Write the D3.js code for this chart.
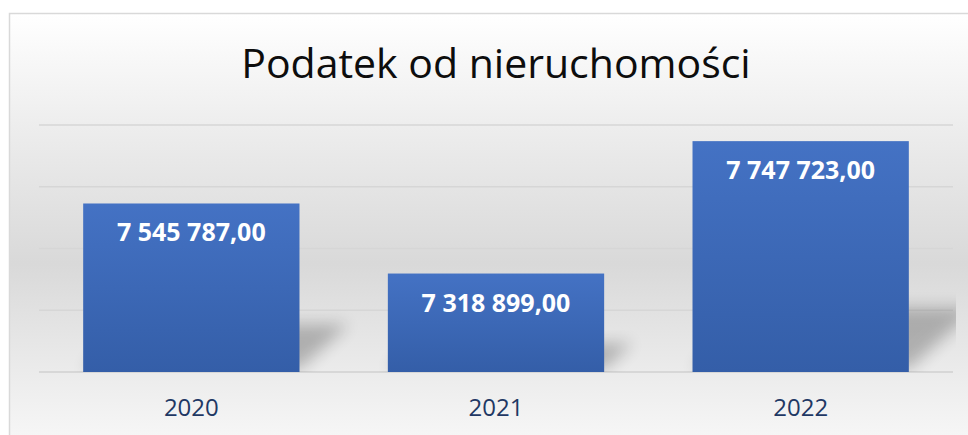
<!DOCTYPE html>
<html>
<head>
<meta charset="utf-8">
<script src="https://cdn.jsdelivr.net/npm/d3@7"></script>
<style>
  body { margin: 0; background: #ffffff; }
  svg { display: block; font-family: "Open Sans", sans-serif; }
</style>
</head>
<body>
<div id="chart"></div>
<script>
// data
var years = ["2020", "2021", "2022"];
var values = [7545787.00, 7318899.00, 7747723.00];
var yTicks = [7000000, 7200000, 7400000, 7600000, 7800000];
var title = "Podatek od nieruchomości";

var width = 968, height = 435;
var plot = {left: 39, right: 953, top: 125, bottom: 372};

var svg = d3.select("#chart")
            .append("svg")
            .attr("width", width)
            .attr("height", height);

var defs = svg.append("defs");

// chart area background: light -> grey -> light
var bg = defs.append("linearGradient")
             .attr("id", "bgGrad")
             .attr("x1", 0).attr("y1", 0).attr("x2", 0).attr("y2", 1);
bg.append("stop").attr("offset", "0%").attr("stop-color", "#ffffff");
bg.append("stop").attr("offset", "25%").attr("stop-color", "#ededed");
bg.append("stop").attr("offset", "55%").attr("stop-color", "#d9d9d9");
bg.append("stop").attr("offset", "85%").attr("stop-color", "#f0f0f0");
bg.append("stop").attr("offset", "100%").attr("stop-color", "#fbfbfb");

// bar fill
var barGrad = defs.append("linearGradient")
                  .attr("id", "barGrad")
                  .attr("x1", 0).attr("y1", 0).attr("x2", 0).attr("y2", 1);
barGrad.append("stop").attr("offset", "0%").attr("stop-color", "#4472c4");
barGrad.append("stop").attr("offset", "100%").attr("stop-color", "#345ea8");

var blur = defs.append("filter")
               .attr("id", "shadowBlur")
               .attr("x", "-50%").attr("y", "-50%")
               .attr("width", "200%").attr("height", "200%");
blur.append("feGaussianBlur").attr("stdDeviation", 8);

// shadows stop at the plot area's right edge
defs.append("clipPath")
    .attr("id", "plotClip")
    .append("rect")
    .attr("x", 0)
    .attr("y", 0)
    .attr("width", plot.right + 3)
    .attr("height", plot.bottom);

// frame
svg.append("rect")
   .attr("x", 9.5)
   .attr("y", 13.5)
   .attr("width", width + 20)
   .attr("height", height + 20)
   .attr("fill", "url(#bgGrad)")
   .attr("stroke", "#d9d9d9")
   .attr("stroke-width", 1.5);

// title
svg.append("text")
   .attr("x", 496)
   .attr("y", 78)
   .attr("text-anchor", "middle")
   .attr("font-size", 41)
   .attr("fill", "#0d0d0d")
   .text(title);

// scales
var x = d3.scaleBand()
          .domain(years)
          .range([plot.left, plot.right])
          .paddingInner(0.29)
          .paddingOuter(0.145);

var y = d3.scaleLinear()
          .domain([yTicks[0], yTicks[yTicks.length - 1]])
          .range([plot.bottom, plot.top]);

// gridlines
svg.append("g")
   .selectAll("line")
   .data(yTicks)
   .enter()
   .append("line")
   .attr("x1", plot.left)
   .attr("x2", plot.right)
   .attr("y1", function(d){ return y(d); })
   .attr("y2", function(d){ return y(d); })
   .attr("stroke", function(d, i){ return i === 0 ? "#d0d0d0" : "#d6d6d6"; })
   .attr("stroke-width", 1.5);

// perspective shadows behind the bars
svg.append("g")
   .attr("clip-path", "url(#plotClip)")
   .selectAll("polygon")
   .data(values)
   .enter()
   .append("polygon")
   .attr("points", function(d, i){
     var x0 = x(years[i]), x1 = x0 + x.bandwidth();
     var b = y(yTicks[0]) - 3;
     var h = (b - y(d)) * 0.27;
     return [[x0, b], [x1, b], [x1 + h * 1.1, b - h], [x0 + h * 1.1, b - h]].join(" ");
   })
   .attr("fill", "#000")
   .attr("opacity", 0.24)
   .attr("filter", "url(#shadowBlur)");

// bars
svg.append("g")
   .selectAll("rect")
   .data(values)
   .enter()
   .append("rect")
   .attr("x", function(d, i){ return x(years[i]); })
   .attr("y", function(d){ return y(d); })
   .attr("width", x.bandwidth())
   .attr("height", function(d){ return y(yTicks[0]) - y(d); })
   .attr("fill", "url(#barGrad)");

// value labels
var fmt = function(v){
  var s = v.toFixed(2).split(".");
  return s[0].replace(/\B(?=(\d{3})+(?!\d))/g, " ") + "," + s[1];
};
svg.append("g")
   .selectAll("text")
   .data(values)
   .enter()
   .append("text")
   .attr("x", function(d, i){ return x(years[i]) + x.bandwidth() / 2; })
   .attr("y", function(d){ return y(d) + 38; })
   .attr("text-anchor", "middle")
   .attr("font-size", 25)
   .attr("font-weight", "bold")
   .attr("fill", "#ffffff")
   .text(fmt);

// category axis
var xAxis = svg.append("g")
               .attr("transform", "translate(0," + plot.bottom + ")")
               .call(d3.axisBottom(x).tickSize(0).tickPadding(0));
xAxis.select(".domain").remove();
xAxis.selectAll("text")
     .attr("y", 44)
     .attr("dy", null)
     .attr("font-size", 24)
     .attr("font-family", "Open Sans, sans-serif")
     .attr("fill", "#1f3864");
</script>
</body>
</html>
